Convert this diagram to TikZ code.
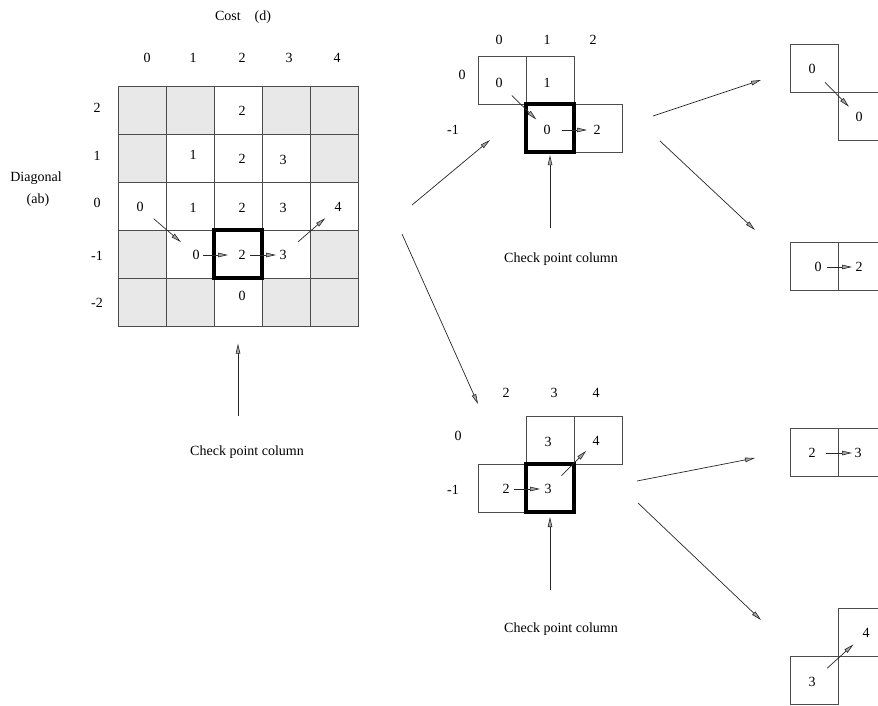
\documentclass[tikz,border=0pt]{standalone}
\usepackage{fontspec}
\setmainfont{Liberation Serif}
\usetikzlibrary{arrows.meta}
\begin{document}
\begin{tikzpicture}[x=1pt,y=-1pt,
  every node/.style={font=\fontsize{14}{16}\selectfont},
  cell/.style={draw=black!70, line width=0.8pt, minimum size=48pt, inner sep=0pt, outer sep=0pt},
  shade/.style={cell, fill=black!9},
  thickcell/.style={draw=black, line width=3.2pt, minimum size=48pt, inner sep=0pt},
  val/.style={inner sep=0pt},
  arr/.style={draw=black!85, line width=0.7pt, -{Triangle[length=10pt,width=4.5pt,fill=black!35,line width=0.6pt]}},
]
\useasboundingbox (0,0) rectangle (878,706);
\clip (0,0) rectangle (878,706);

% ---------------- main grid ----------------
\node (cost) at (243,17) {Cost\quad(d)};
\foreach \c/\x/\t in {0/147/0,1/193/1,2/242/2,3/289/3,4/337/4}
  \node (mc\c) at (\x,58) {\t};
\foreach \r/\y/\t in {0/108/2,1/156/1,2/203/0,3/256/-1,4/303/-2}
  \node (mr\r) at (97,\y) {\t};
\node (diag) at (36,178) {Diagonal};
\node (ab) at (38,200) {(ab)};

\foreach \r/\c/\s in {0/0/shade,0/1/shade,0/2/cell,0/3/shade,0/4/shade,
                      1/0/shade,1/1/cell,1/2/cell,1/3/cell,1/4/shade,
                      2/0/cell,2/1/cell,2/2/cell,2/3/cell,2/4/cell,
                      3/0/shade,3/1/cell,3/2/cell,3/3/cell,3/4/shade,
                      4/0/shade,4/1/shade,4/2/cell,4/3/shade,4/4/shade}
  \node[\s] (m\r\c) at ({142+48*\c},{110+48*\r}) {};
\node[thickcell] (mT) at (238,254) {};

\node[val] (v02) at (242,111) {2};
\node[val] (v11) at (193,155) {1};
\node[val] (v12) at (242,159) {2};
\node[val] (v13) at (283,160) {3};
\node[val] (v20) at (140,207) {0};
\node[val] (v21) at (193,208) {1};
\node[val] (v22) at (242,208) {2};
\node[val] (v23) at (283,208) {3};
\node[val] (v24) at (338,207) {4};
\node[val] (v31) at (196,255) {0};
\node[val] (v32) at (242,255) {2};
\node[val] (v33) at (283,255) {3};
\node[val] (v42) at (242,296) {0};

\draw[arr, shorten <=18pt, shorten >=20pt] (v20.center) -- (v31.center);
\draw[arr, shorten <=7pt, shorten >=14pt] (v31.center) -- (v32.center);
\draw[arr, shorten <=8pt, shorten >=7pt] (v32.center) -- (v33.center);
\draw[arr, shorten <=20pt, shorten >=17pt] (v33.center) -- (v24.center);

\coordinate (cpA) at (238,416);
\draw[arr, shorten >=64pt] (cpA) -- (mT.south);
\node (cptA) at (247,452) {Check point column};

% ---------------- top middle ----------------
\foreach \c/\x/\t in {0/499/0,1/547/1,2/593/2}
  \node (bc\c) at (\x,40) {\t};
\node (br0) at (462,75) {0};
\node (br1) at (453,130) {-1};
\node[cell] (b1) at (502,80) {};
\node[cell] (b2) at (550,80) {};
\node[cell] (b3) at (598,128) {};
\node[thickcell] (bT) at (550,128) {};
\node[val] (bv1) at (499,83) {0};
\node[val] (bv2) at (547,83) {1};
\node[val] (bv3) at (547,130) {0};
\node[val] (bv4) at (597,130) {2};
\draw[arr, shorten <=18pt, shorten >=15pt] (bv1.center) -- (bv3.center);
\draw[arr, shorten <=15pt, shorten >=10pt] (bv3.center) -- (bv4.center);
\coordinate (cpB) at (550,228);
\draw[arr, shorten >=1.5pt] (cpB) -- (bT.south);
\node (cptB) at (561,259) {Check point column};

% ---------------- bottom middle ----------------
\foreach \c/\x/\t in {0/506/2,1/554/3,2/596/4}
  \node (cc\c) at (\x,393) {\t};
\node (cr0) at (458,436) {0};
\node (cr1) at (453,490) {-1};
\node[cell] (c1) at (550,440) {};
\node[cell] (c2) at (598,440) {};
\node[cell] (c3) at (502,488) {};
\node[thickcell] (cT) at (550,488) {};
\node[val] (cv1) at (548,442) {3};
\node[val] (cv2) at (596,441) {4};
\node[val] (cv3) at (506,489) {2};
\node[val] (cv4) at (548,489) {3};
\draw[arr, shorten <=8pt, shorten >=8pt] (cv3.center) -- (cv4.center);
\draw[arr, shorten <=19pt, shorten >=14pt] (cv4.center) -- (cv2.center);
\coordinate (cpC) at (550,590);
\draw[arr, shorten >=3.4pt] (cpC) -- (cT.south);
\node (cptC) at (561,629) {Check point column};

% ---------------- right column ----------------
\node[cell] (d1a) at (814,68) {};
\node[cell] (d1b) at (862,116) {};
\node[val] (d1x) at (812,69) {0};
\node[val] (d1y) at (859,117) {0};
\draw[arr, shorten <=18.6pt, shorten >=14.4pt] (d1x.center) -- (d1y.center);

\node[cell] (d2a) at (814,266) {};
\node[cell] (d2b) at (862,266) {};
\node[val] (d2x) at (818,267) {0};
\node[val] (d2y) at (859,267) {2};
\draw[arr, shorten <=9pt, shorten >=7pt] (d2x.center) -- (d2y.center);

\node[cell] (d3a) at (814,452) {};
\node[cell] (d3b) at (862,452) {};
\node[val] (d3x) at (812,453) {2};
\node[val] (d3y) at (858,453) {3};
\draw[arr, shorten <=14pt, shorten >=6pt] (d3x.center) -- (d3y.center);

\node[cell] (d4a) at (862,632) {};
\node[cell] (d4b) at (814,680) {};
\node[val] (d4x) at (812,682) {3};
\node[val] (d4y) at (866,633) {4};
\draw[arr, shorten <=20.5pt, shorten >=17pt] (d4x.center) -- (d4y.center);

% ---------------- connecting arrows ----------------
\coordinate (AB1) at (412,205); \coordinate (AB2) at (490,140);
\coordinate (AC1) at (402,234); \coordinate (AC2) at (478,404);
\coordinate (BD1a) at (653,116); \coordinate (BD1b) at (761,80);
\coordinate (BD2a) at (660,141); \coordinate (BD2b) at (755,230);
\coordinate (CD3a) at (637,481); \coordinate (CD3b) at (755,458);
\coordinate (CD4a) at (638,503); \coordinate (CD4b) at (761,620);
\draw[arr] (AB1) -- (AB2);
\draw[arr] (AC1) -- (AC2);
\draw[arr] (BD1a) -- (BD1b);
\draw[arr] (BD2a) -- (BD2b);
\draw[arr] (CD3a) -- (CD3b);
\draw[arr] (CD4a) -- (CD4b);
\end{tikzpicture}
\end{document}
